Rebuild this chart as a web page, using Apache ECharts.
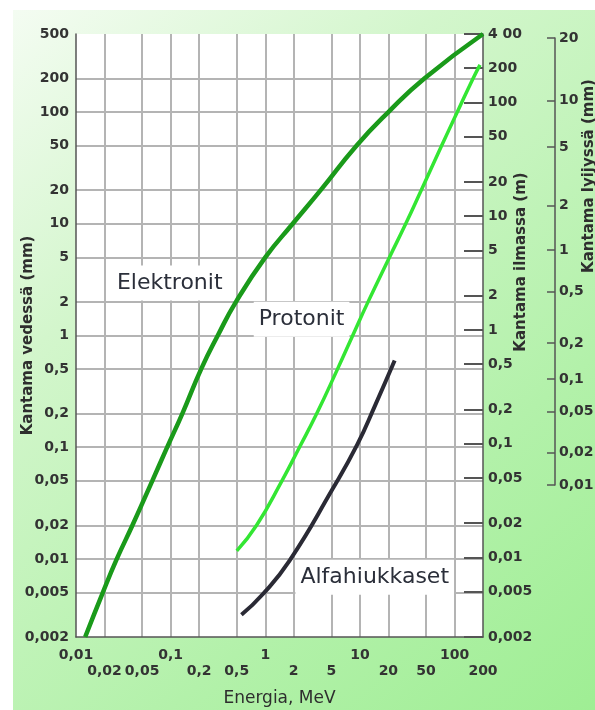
<!DOCTYPE html>
<html><head><meta charset="utf-8">
<script src="https://cdn.jsdelivr.net/npm/echarts@6/dist/echarts.min.js"></script>
<style>html,body{margin:0;padding:0;background:#fff;}#c{width:595px;height:710px;}</style>
</head><body><div id="c"></div>
<script>
// ---- tick values and labels ----
const energyMajorTicks = [0.01, 0.1, 1, 10, 100];
const energyMajorLabels = ['0,01','0,1','1','10','100'];
const energyMinorTicks = [0.02, 0.05, 0.2, 0.5, 2, 5, 20, 50, 200];
const energyMinorLabels = ['0,02','0,05','0,2','0,5','2','5','20','50','200'];
const energyGridTicks = [0.02, 0.05, 0.1, 0.2, 0.5, 1, 2, 5, 10, 20, 50, 100];
const waterTicks = [500, 200, 100, 50, 20, 10, 5, 2, 1, 0.5, 0.2, 0.1, 0.05, 0.02, 0.01, 0.005, 0.002];
const waterTickLabels = ['500','200','100','50','20','10','5','2','1','0,5','0,2','0,1','0,05','0,02','0,01','0,005','0,002'];
const airTicks = [400, 200, 100, 50, 20, 10, 5, 2, 1, 0.5, 0.2, 0.1, 0.05, 0.02, 0.01, 0.005, 0.002];
const airTickLabels = ['4 00','200','100','50','20','10','5','2','1','0,5','0,2','0,1','0,05','0,02','0,01','0,005','0,002'];
const leadTickLabels = ['20','10','5','2','1','0,5','0,2','0,1','0,05','0,02','0,01'];
// water range (mm) that each lead-scale tick corresponds to
const leadWaterEquivalent = [460, 127, 48.6, 14.6, 5.82, 2.48, 0.857, 0.408, 0.207, 0.0896, 0.0458];

// ---- series: energy (MeV) vs range in water (mm) ----
const electronEnergy = [0.0125, 0.0192, 0.027, 0.0395, 0.064, 0.092, 0.133, 0.21, 0.315, 0.49, 1.0, 1.95, 3.85, 9.2, 20, 48, 200];
const electronWater  = [0.002, 0.005, 0.01, 0.02, 0.05, 0.1, 0.2, 0.5, 1, 2, 5, 10, 20, 50, 100, 200, 500];
const protonEnergy = [0.5, 0.81, 1.5, 2.3, 3.5, 5.8, 8.4, 12.2, 20.5, 30.5, 44.5, 73, 107, 157, 186];
const protonWater  = [0.0118, 0.02, 0.05, 0.1, 0.2, 0.5, 1, 2, 5, 10, 20, 50, 100, 200, 265];
const alphaEnergy = [0.56, 0.935, 1.8, 5.16, 9.43, 14.3, 23.3];
const alphaWater  = [0.00316, 0.0048, 0.0096, 0.0424, 0.1065, 0.231, 0.597];

const L = Math.log10;
function nearestIndex(vals, v) {
  let best = 0, bd = Infinity;
  vals.forEach((t, i) => { const d = Math.abs(L(t) - v); if (d < bd) { bd = d; best = i; } });
  return best;
}
const FONT = 'DejaVu Sans';
const tickFont = { fontSize: 14, fontWeight: 'bold', fontFamily: FONT, color: '#333' };
const nameFont = { fontSize: 15, fontWeight: 'bold', fontFamily: FONT, color: '#2e2e2e' };
const axisLineStyle = { color: '#555', width: 1.5 };
const gridLineStyle = { color: '#b4b4b4', width: 2 };
const interiorW = waterTicks.filter(v => v > 0.002 && v < 500).map(L);
const plotRect = { left: 76, top: 34, width: 407, height: 603, containLabel: false, outerBoundsMode: 'none' };

function pts(E, W) { return E.map((e, i) => [L(e), L(W[i])]); }
function annot(text, e, w) {
  return {
    symbol: 'rect', symbolSize: 1, silent: true,
    itemStyle: { color: 'rgba(0,0,0,0)' },
    label: { show: true, position: 'inside', formatter: text, fontSize: 22, fontFamily: FONT,
             color: '#2b2f3a', backgroundColor: '#fff', padding: [6, 5, 5, 5], lineHeight: 24 },
    data: [{ coord: [L(e), L(w)] }]
  };
}

const chart = echarts.init(document.getElementById('c'), null, { renderer: 'canvas' });
chart.setOption({
  animation: false,
  graphic: [
    { type: 'rect', z: -100, silent: true, shape: { x: 13, y: 10, width: 582, height: 700 },
      style: { fill: new echarts.graphic.LinearGradient(0, 0, 1, 1, [
        { offset: 0, color: '#f4fcf2' }, { offset: 0.3, color: '#d3f6cc' },
        { offset: 0.7, color: '#b3f1aa' }, { offset: 1, color: '#9fee94' }]) } },
    { type: 'text', x: 521, y: 262, rotation: Math.PI / 2, silent: true,
      style: { text: 'Kantama ilmassa (m)', align: 'center', verticalAlign: 'middle',
               font: 'bold 15px "DejaVu Sans"', fill: '#2e2e2e' } },
    { type: 'text', x: 589, y: 176, rotation: Math.PI / 2, silent: true,
      style: { text: 'Kantama lyijyssä (mm)', align: 'center', verticalAlign: 'middle',
               font: 'bold 15px "DejaVu Sans"', fill: '#2e2e2e' } }
  ],
  grid: [
    Object.assign({ show: true, backgroundColor: '#fff', borderWidth: 0 }, plotRect),
    { left: 554, top: 38, width: 1, height: 447, show: false, containLabel: false, outerBoundsMode: 'none' },
    Object.assign({ show: false }, plotRect)
  ],
  xAxis: [
    { type: 'value', gridIndex: 0, min: L(0.01), max: L(200),
      axisLine: { show: true, onZero: false, lineStyle: axisLineStyle },
      axisTick: { show: false, customValues: energyGridTicks.map(L) },
      splitLine: { show: true, lineStyle: gridLineStyle },
      axisLabel: Object.assign({}, tickFont, {
        customValues: energyMajorTicks.map(L), margin: 11, hideOverlap: false,
        showMinLabel: true, showMaxLabel: true,
        formatter: v => energyMajorLabels[nearestIndex(energyMajorTicks, v)] }),
      name: 'Energia, MeV', nameLocation: 'middle', nameGap: 53, nameMoveOverlap: false,
      nameTextStyle: { fontSize: 17, fontFamily: FONT, color: '#2e2e2e' } },
    { type: 'value', gridIndex: 1, show: false, min: 0, max: 1 },
    { type: 'value', gridIndex: 2, min: L(0.01), max: L(200),
      axisLine: { show: false, onZero: false }, axisTick: { show: false }, splitLine: { show: false },
      axisLabel: Object.assign({}, tickFont, {
        customValues: energyMinorTicks.map(L), margin: 27, hideOverlap: false,
        showMinLabel: true, showMaxLabel: true,
        formatter: v => energyMinorLabels[nearestIndex(energyMinorTicks, v)] }) }
  ],
  yAxis: [
    { type: 'value', gridIndex: 0, position: 'left', min: L(0.002), max: L(500),
      axisLine: { show: true, onZero: false, lineStyle: axisLineStyle },
      axisTick: { show: false, customValues: interiorW },
      splitLine: { show: true, lineStyle: gridLineStyle },
      axisLabel: Object.assign({}, tickFont, { customValues: waterTicks.map(L), margin: 7,
        showMinLabel: true, showMaxLabel: true,
        formatter: v => waterTickLabels[nearestIndex(waterTicks, v)] }),
      name: 'Kantama vedessä (mm)', nameLocation: 'middle', nameRotate: 90, nameGap: 40,
      nameMoveOverlap: false, nameTextStyle: nameFont },
    { type: 'value', gridIndex: 0, position: 'right', min: L(0.002), max: L(400),
      axisLine: { show: true, onZero: false, lineStyle: axisLineStyle },
      axisTick: { show: true, inside: true, length: 19, customValues: airTicks.map(L),
                  lineStyle: { color: '#555', width: 2 } },
      splitLine: { show: false },
      axisLabel: Object.assign({}, tickFont, { customValues: airTicks.map(L), margin: 5,
        showMinLabel: true, showMaxLabel: true,
        formatter: v => airTickLabels[nearestIndex(airTicks, v)] }) },
    { type: 'value', gridIndex: 1, position: 'right',
      min: L(leadWaterEquivalent[leadWaterEquivalent.length - 1]), max: L(leadWaterEquivalent[0]),
      axisLine: { show: true, onZero: false, lineStyle: axisLineStyle },
      axisTick: { show: true, inside: true, length: 8, customValues: leadWaterEquivalent.map(L),
                  lineStyle: { color: '#555', width: 1.5 } },
      splitLine: { show: false },
      axisLabel: Object.assign({}, tickFont, { customValues: leadWaterEquivalent.map(L), margin: 4,
        showMinLabel: true, showMaxLabel: true,
        formatter: v => leadTickLabels[nearestIndex(leadWaterEquivalent, v)] }) },
    { type: 'value', gridIndex: 2, show: false, min: 0, max: 1 }
  ],
  series: [
    { name: 'Elektronit', type: 'line', xAxisIndex: 0, yAxisIndex: 0, data: pts(electronEnergy, electronWater),
      showSymbol: false, smooth: 0.5, lineStyle: { color: '#1a9a1a', width: 4.5 }, itemStyle: { color: '#1a9a1a' },
      markPoint: annot('Elektronit', 0.0978, 2.95) },
    { name: 'Protonit', type: 'line', xAxisIndex: 0, yAxisIndex: 0, data: pts(protonEnergy, protonWater),
      showSymbol: false, smooth: 0.5, lineStyle: { color: '#33e633', width: 3.5 }, itemStyle: { color: '#33e633' },
      markPoint: annot('Protonit', 2.42, 1.40) },
    { name: 'Alfahiukkaset', type: 'line', xAxisIndex: 0, yAxisIndex: 0, data: pts(alphaEnergy, alphaWater),
      showSymbol: false, smooth: 0.5, lineStyle: { color: '#2a2a35', width: 4 }, itemStyle: { color: '#2a2a35' },
      markPoint: annot('Alfahiukkaset', 14.35, 0.00684) }
  ]
});
</script></body></html>
